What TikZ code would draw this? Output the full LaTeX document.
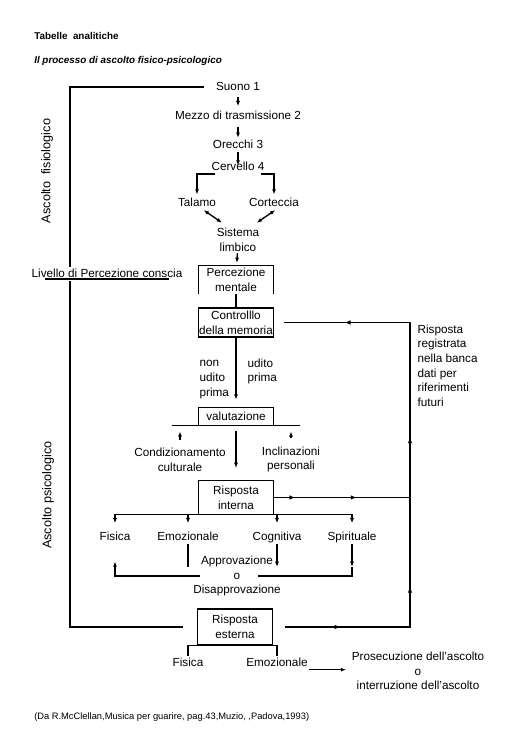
\documentclass[tikz,border=0pt]{standalone}
\usepackage{fontspec}
\setmainfont{Liberation Sans}
\usetikzlibrary{positioning,arrows.meta,decorations.markings}

\begin{document}
\begin{tikzpicture}[x=0.75pt, y=-0.75pt,
  lbl/.style={font=\fontsize{8.8}{11}\selectfont, inner sep=1pt, align=center},
  one/.style={lbl, text height=6.4pt, text depth=1.8pt},
  bx/.style={lbl, minimum width=56pt, inner sep=0pt},
  ln/.style={line width=1pt},
  arr/.style={ln, -{Latex[length=4pt, width=3pt]}},
  darr/.style={ln, {Latex[length=4pt, width=3pt]}-{Latex[length=4pt, width=3pt]}},
  markat/.style={postaction={decorate, decoration={markings, mark=at position #1 with {\arrow{Latex[length=4.5pt, width=3.4pt]}}}}}]
  \useasboundingbox (0,0) rectangle (522,746);
  \node[font=\fontsize{7.4}{9}\selectfont\bfseries, anchor=west, inner sep=0pt] (titolo) at (34,36) {Tabelle\ \ analitiche};
  \node[font=\fontsize{7.4}{9}\selectfont\bfseries\itshape, anchor=west, inner sep=0pt] (sottotit) at (34,61) {Il processo di ascolto fisico-psicologico};
  \node[one] (suono) at (238,87) {Suono 1};
  \node[one] (mezzo) at (238,116) {Mezzo di trasmissione 2};
  \node[one] (orecchi) at (238,145) {Orecchi 3};
  \node[one] (cervello) at (238,167) {Cervello 4};
  \node[one] (talamo) at (197,203) {Talamo};
  \node[one] (corteccia) at (274,203) {Corteccia};
  \node[lbl] (limbico) at (238,240) {Sistema\\limbico};
  \node[bx, minimum height=21pt] (percez) at (236,280) {Percezione\\mentale};
  \node[bx, minimum height=22pt, draw, line width=1.1pt] (memoria) at (236,322.5) {Controlllo\\della memoria};
  \node[lbl, anchor=north west, align=left] (nonudito) at (198,359) {non\\udito\\prima};
  \node[lbl, anchor=north west, align=left] (udito) at (246,357) {udito\\prima};
  \node[bx, minimum height=12.75pt] (valut) at (236,416.5) {valutazione};
  \node[lbl] (condiz) at (180,459.5) {Condizionamento\\culturale};
  \node[lbl] (inclin) at (291,459.5) {Inclinazioni\\personali};
  \node[bx, minimum height=24.75pt] (rispint) at (236,497.5) {Risposta\\interna};
  \node[one] (fisica) at (115,537) {Fisica};
  \node[one] (emoz) at (188,537) {Emozionale};
  \node[one] (cogn) at (277,537) {Cognitiva};
  \node[one] (spirit) at (352,537) {Spirituale};
  \node[lbl] (approv) at (237,576) {Approvazione\\o\\Disapprovazione};
  \node[bx, minimum height=27pt, draw, line width=1.1pt] (rispest) at (235,627) {Risposta\\esterna};
  \node[one] (efisica) at (188,663) {Fisica};
  \node[one] (eemoz) at (277,663) {Emozionale};
  \node[lbl] (prosec) at (418,671) {Prosecuzione dell'ascolto\\o\\interruzione dell'ascolto};
  \node[lbl, anchor=north west, align=left] (registr) at (416,323) {Risposta\\registrata\\nella banca\\dati per\\riferimenti\\futuri};
  \node[one] (livello) at (107,274) {Livello di Percezione conscia};
  \node[lbl, rotate=90, font=\fontsize{9.5}{11}\selectfont] (fisiolog) at (47,171) {Ascolto\ \ fisiologico};
  \node[lbl, rotate=90, font=\fontsize{9.5}{11}\selectfont] (psicolog) at (48,495) {Ascolto psicologico};
  \node[font=\fontsize{7}{9}\selectfont, anchor=west, inner sep=0pt] (fonte) at (34,717) {(Da R.McClellan,Musica per guarire, pag.43,Muzio, ,Padova,1993)};
  \coordinate (lx) at (70,0);
  \coordinate (rx) at (410,0);
  \coordinate (emend) at (186,567);
  \draw[arr, shorten <=2pt, shorten >=2pt] (suono) -- (mezzo);
  \draw[arr, shorten <=3pt] (mezzo) -- (orecchi);
  \draw[arr, shorten >=1pt] (orecchi) -- (cervello.center);
  \draw[arr, shorten >=1pt] ([xshift=4pt]cervello.south west) -| (talamo);
  \draw[arr, shorten >=1pt] ([xshift=-4pt]cervello.south east) -| (corteccia);
  \draw[darr] ([xshift=5pt]talamo.south) -- ([shift={(-12pt,3pt)}]limbico.north);
  \draw[darr] ([xshift=1pt]corteccia.south) -- ([shift={(14pt,3pt)}]limbico.north);
  \draw[arr, shorten >=2pt] (limbico) -- (percez);
  \draw[ln] (percez.south west) -- (percez.north west) -- (percez.north east) -- (percez.south east);
  \draw[ln] (percez) -- (memoria);
  \draw[arr, shorten >=6pt] (memoria) -- (valut);
  \draw[ln] ([xshift=-20pt]valut.south west) -- ([xshift=20pt]valut.south east);
  \draw[ln] (valut.south west) |- (valut.north east) -- (valut.south east);
  \draw[arr, shorten <=5pt, shorten >=4.5pt] (condiz) -- (condiz |- valut.south);
  \draw[arr, shorten <=5pt, shorten >=4.5pt] (inclin) -- (inclin |- valut.south);
  \draw[arr, shorten <=4pt, shorten >=9.5pt] (valut) -- (rispint);
  \draw[ln] (rispint.south west) |- (rispint.north east) -- (rispint.south east);
  \draw[ln] (rispint.south -| fisica) -- (rispint.south -| spirit);
  \foreach \n in {fisica, emoz, cogn, spirit}
    \draw[arr, shorten >=5pt] (rispint.south -| \n) -- (\n);
  \draw[ln] (emoz) -- (emoz |- emend);
  \draw[arr] (cogn) -- (cogn |- emend);
  \draw[arr] (spirit) -- (spirit |- emend);
  \draw[ln, shorten >=15.75pt] (spirit |- emend) |- (approv.center);
  \draw[arr, shorten <=27.75pt, shorten >=13pt] (approv.center) -| (fisica);
  \draw[ln, markat=0.16, markat=0.61] (rispint.east) -- (rispint.east -| rx);
  \draw[ln, shorten <=9pt, shorten >=7.5pt, markat=0.117, markat=0.307, markat=0.566, markat=0.878] (rispest.east) -- (rispest.east -| rx) -- (memoria.east -| rx) -- (memoria.east);
  \draw[ln, shorten <=8pt] (suono.west) -| (livello.north -| lx);
  \draw[ln, shorten >=10.5pt] (livello.south -| lx) |- (rispest.west);
  \draw[ln] ([shift={(11pt,-1.5pt)}]livello.base west) -- ([shift={(-11pt,-1.5pt)}]livello.base east);
  \draw[ln] (efisica.north) |- (rispest.south) -| (eemoz.north);
  \draw[arr, shorten >=3pt] ([yshift=-5pt]eemoz.east) -- ([yshift=-5pt]eemoz.east -| prosec.west);
\end{tikzpicture}
\end{document}
